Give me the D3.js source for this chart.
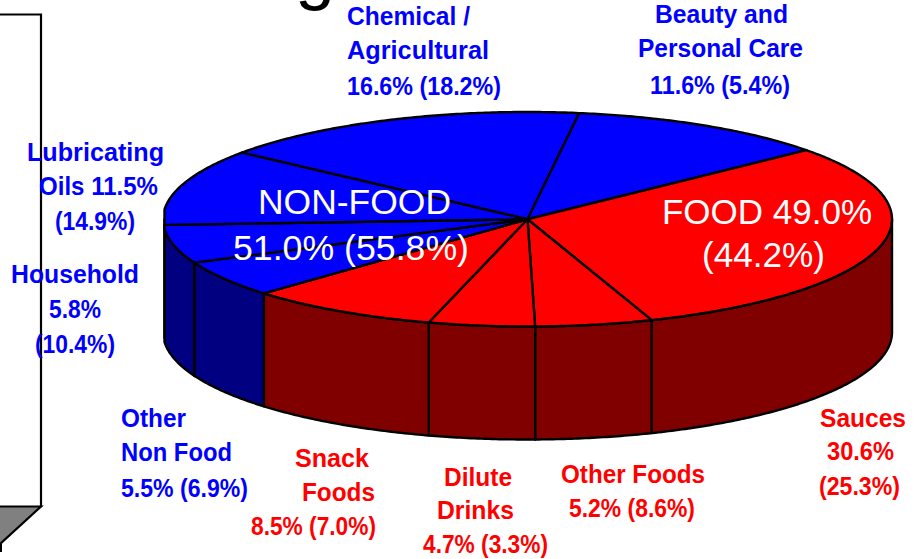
<!DOCTYPE html>
<html>
<head>
<meta charset="utf-8">
<script src="https://cdnjs.cloudflare.com/ajax/libs/d3/7.8.5/d3.min.js"></script>
<style>
  html, body { margin: 0; padding: 0; background: #fff; }
  svg { display: block; }
  text { font-family: "Liberation Sans", Arial, sans-serif; }
</style>
</head>
<body>
<div id="chart"></div>
<script>
const width = 917
const height = 559

// share of sales, clockwise from the Chemical / Agricultural slice
const slices = ['Chemical / Agricultural', 'Beauty and Personal Care', 'Sauces', 'Other Foods', 'Dilute Drinks', 'Snack Foods', 'Other Non Food', 'Household', 'Lubricating Oils']
const shares = [16.6, 11.6, 30.6, 5.2, 4.7, 8.5, 5.5, 5.8, 11.5]
const groups = ['nonfood', 'nonfood', 'food', 'food', 'food', 'food', 'nonfood', 'nonfood', 'nonfood']

const labelTexts = ['Chemical /', 'Agricultural', '16.6% (18.2%)', 'Beauty and', 'Personal Care', '11.6% (5.4%)', 'Lubricating', 'Oils 11.5%', '(14.9%)', 'Household', '5.8%', '(10.4%)', 'Other', 'Non Food', '5.5% (6.9%)', 'Sauces', '30.6%', '(25.3%)', 'Other Foods', '5.2% (8.6%)', 'Dilute', 'Drinks', '4.7% (3.3%)', 'Snack', 'Foods', '8.5% (7.0%)']
const labelGroups = ['nonfood', 'nonfood', 'nonfood', 'nonfood', 'nonfood', 'nonfood', 'nonfood', 'nonfood', 'nonfood', 'nonfood', 'nonfood', 'nonfood', 'nonfood', 'nonfood', 'nonfood', 'food', 'food', 'food', 'food', 'food', 'food', 'food', 'food', 'food', 'food', 'food']
const groupTexts = ['NON-FOOD', '51.0% (55.8%)', 'FOOD 49.0%', '(44.2%)']

// layout of the texts, in pixels: left, baseline, width
const labelLayout = [
  [347, 25, 123], [347, 59, 142], [347, 95, 154],
  [655, 23, 133], [638, 57, 165], [650, 94, 140],
  [27, 161, 137], [39, 195, 119], [55, 230, 80],
  [11, 283, 128], [49, 318, 52], [35, 353, 80],
  [121, 427, 65], [121, 461, 111], [121, 497, 127],
  [820, 427, 86], [827, 460, 67], [819, 495, 81],
  [561, 483, 144], [569, 517, 126],
  [444, 486, 68], [437, 519, 77], [423, 553, 125],
  [295, 467, 74], [302, 501, 73], [251, 535, 125]
]
const groupLayout = [
  [258, 214, 193], [233, 260, 236], [662, 224, 210], [702, 267, 123]
]

const topColors = { food: '#ff0000', nonfood: '#0000ff' }
const sideColors = { food: '#800000', nonfood: '#000080' }

const svg = d3.select('#chart').append('svg')
  .attr('width', width)
  .attr('height', height)

// scales from the unit circle to the tilted pie top
const x = d3.scaleLinear().domain([-1, 1]).range([163, 892])
const y = d3.scaleLinear().domain([-1, 1]).range([112, 326.5])
const depth = 113
const leftEdge = 164.5

const startAngle = (308.4 - 360) * Math.PI / 180
const arcs = d3.pie().sort(null).startAngle(startAngle).endAngle(startAngle + 2 * Math.PI)(shares)

// the rim is flattened a little where it meets the left edge, as in the picture
const px = a => Math.max(x(Math.sin(a)), leftEdge)
const py = a => y(-Math.cos(a))
const line = d3.line()

function sample (a0, a1) {
  const n = Math.max(2, Math.ceil(Math.abs(a1 - a0) / 0.01))
  return d3.range(n + 1).map(i => a0 + (a1 - a0) * i / n)
}

// frame left of the pie
svg.append('path')
  .attr('d', line([[-2, 14.5], [41, 14.5], [41, 507]]))
  .attr('fill', 'none')
  .attr('stroke', '#000')
  .attr('stroke-width', 2.2)
svg.append('path')
  .attr('d', line([[-2, 506.5], [41, 506.5], [-1, 545], [-2, 506.5]]))
  .attr('fill', '#808080')
  .attr('stroke', '#000')
  .attr('stroke-width', 2.2)
svg.append('path')
  .attr('d', line([[0.5, 543], [0.5, 552]]))
  .attr('stroke', '#000')
  .attr('stroke-width', 3)

// title, cut off by the top of the page as in the picture
svg.append('text')
  .attr('x', 295)
  .attr('y', -4)
  .attr('font-size', 72)
  .attr('fill', '#000')
  .text('g')

// side wall: only the front half of the rim is visible
const frontStart = Math.PI / 2
const frontEnd = 3 * Math.PI / 2
const wall = arcs.map((d, i) => ({
  a0: Math.max(d.startAngle, frontStart),
  a1: Math.min(d.endAngle, frontEnd),
  group: groups[i]
})).filter(d => d.a1 > d.a0)

svg.append('g')
  .selectAll('path')
  .data(wall)
  .join('path')
  .attr('d', d => {
    const rim = sample(d.a0, d.a1)
    const upper = rim.map(a => [px(a), py(a)])
    const lower = rim.slice().reverse().map(a => [px(a), py(a) + depth])
    return line(upper.concat(lower)) + 'Z'
  })
  .attr('fill', d => sideColors[d.group])
  .attr('stroke', '#000')
  .attr('stroke-width', 2.4)
  .attr('stroke-linejoin', 'round')

// pie top
svg.append('g')
  .selectAll('path')
  .data(arcs)
  .join('path')
  .attr('d', d => {
    const rim = sample(d.startAngle, d.endAngle).map(a => [px(a), py(a)])
    return line([[x(0), y(0)]].concat(rim)) + 'Z'
  })
  .attr('fill', (d, i) => topColors[groups[i]])
  .attr('stroke', '#000')
  .attr('stroke-width', 2.4)
  .attr('stroke-linejoin', 'round')

// white labels on the pie top
svg.append('g')
  .selectAll('text')
  .data(groupTexts)
  .join('text')
  .attr('x', (d, i) => groupLayout[i][0])
  .attr('y', (d, i) => groupLayout[i][1])
  .attr('textLength', (d, i) => groupLayout[i][2])
  .attr('lengthAdjust', 'spacingAndGlyphs')
  .attr('font-size', 35)
  .attr('fill', '#fff')
  .text(d => d)

// slice labels
svg.append('g')
  .selectAll('text')
  .data(labelTexts)
  .join('text')
  .attr('x', (d, i) => labelLayout[i][0])
  .attr('y', (d, i) => labelLayout[i][1])
  .attr('textLength', (d, i) => labelLayout[i][2])
  .attr('lengthAdjust', 'spacingAndGlyphs')
  .attr('font-size', 25)
  .attr('font-weight', 'bold')
  .attr('fill', (d, i) => topColors[labelGroups[i]])
  .text(d => d)
</script>
</body>
</html>
